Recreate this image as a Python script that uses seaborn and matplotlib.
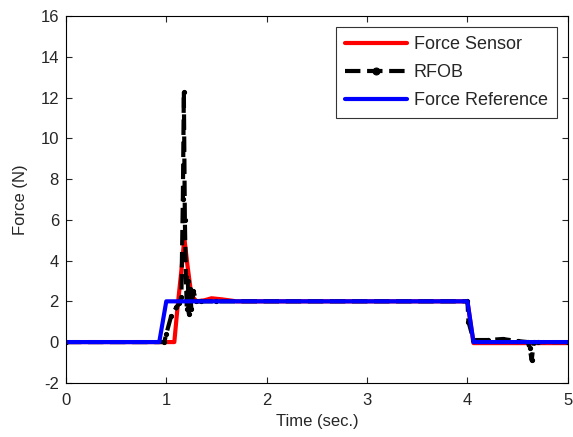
import matplotlib
matplotlib.use("Agg")
import matplotlib.pyplot as plt
import seaborn as sns

# values
ref_t = [0.0, 0.93, 1.0, 4.0, 4.06, 5.0]
ref_f = [0.0, 0.0, 2.0, 2.0, 0.0, 0.0]

sensor_t = [0.0, 1.08, 1.11, 1.15, 1.18, 1.21, 1.25, 1.3, 1.38, 1.45, 1.55, 1.7, 4.0, 4.06, 5.0]
sensor_f = [0.0, 0.0, 1.6, 3.5, 5.1, 3.8, 2.3, 2.0, 2.05, 2.15, 2.1, 2.0, 2.0, -0.05, -0.05]

rfob_t = [0.0, 0.98, 1.0, 1.05, 1.1, 1.13, 1.15, 1.165, 1.175, 1.185, 1.195, 1.205,
          1.215, 1.225, 1.235, 1.25, 1.27, 1.3, 1.35, 1.5, 4.0, 4.01, 4.06, 4.2, 4.35,
          4.5, 4.6, 4.62, 4.64, 4.66, 4.7, 5.0]
rfob_f = [0.0, 0.0, 0.4, 1.3, 1.7, 1.9, 2.2, 7.0, 12.3, 6.0, 3.2, 1.6, 3.0, 1.4, 2.6,
          1.6, 2.5, 2.0, 2.0, 2.0, 2.0, 1.0, 0.1, 0.1, 0.15, 0.05, 0.0, -0.3, -0.9,
          0.0, 0.0, 0.0]

sns.set_style("ticks")
plt.rcParams["font.family"] = ["Liberation Sans", "DejaVu Sans"]
plt.rcParams["axes.unicode_minus"] = False

fig = plt.figure(figsize=(5.73, 4.37), dpi=100)
ax = fig.add_axes([0.115, 0.124, 0.876, 0.839])

sns.lineplot(x=sensor_t, y=sensor_f, ax=ax, color="#ff0000", linewidth=3,
             sort=False, estimator=None, label="Force Sensor")
sns.lineplot(x=rfob_t, y=rfob_f, ax=ax, color="black", linewidth=3, linestyle="--",
             marker="o", markersize=3, markeredgecolor="black", markerfacecolor="black",
             sort=False, estimator=None, label="RFOB")
sns.lineplot(x=ref_t, y=ref_f, ax=ax, color="#0000ff", linewidth=3,
             sort=False, estimator=None, label="Force Reference")

ax.set_xlim(0, 5)
ax.set_ylim(-2, 16)
ax.set_xticks(range(0, 6))
ax.set_yticks(range(-2, 17, 2))
ax.set_xlabel("Time (sec.)", fontsize=12, labelpad=5)
ax.set_ylabel("Force (N)", fontsize=12, labelpad=9)
ax.tick_params(direction="in", labelsize=12, top=True, right=True, length=4)
ax.tick_params(axis="x", pad=7)
ax.tick_params(axis="y", pad=5)
for s in ax.spines.values():
    s.set_linewidth(0.8)
    s.set_color("black")

leg = ax.legend(loc="upper right", fontsize=13, frameon=True, fancybox=False,
                edgecolor="black", borderaxespad=0.6, handlelength=3.4,
                numpoints=1, labelspacing=0.62, handletextpad=0.4,
                borderpad=0.5)
leg.get_frame().set_linewidth(0.8)
for h in leg.get_lines():
    h.set_markersize(5)

fig.savefig("out.png", dpi=100)
